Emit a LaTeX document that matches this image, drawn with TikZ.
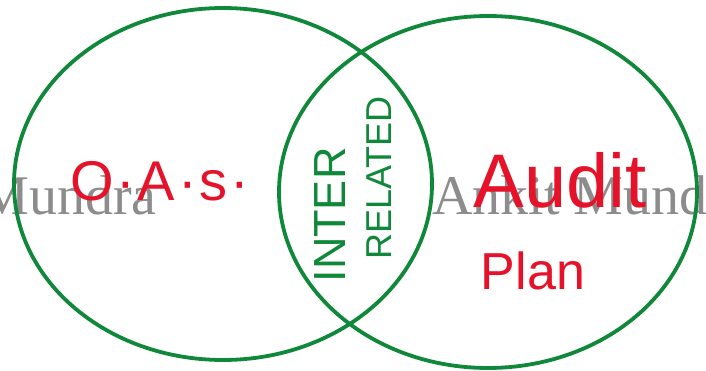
\documentclass[tikz,border=0pt]{standalone}
\usepackage{fontspec}
\setmainfont{Liberation Sans}
\newfontfamily\markfont{Liberation Serif}
\usetikzlibrary{shapes.geometric}
\definecolor{venngreen}{RGB}{16,136,58}
\definecolor{vennred}{RGB}{230,18,42}
\definecolor{markgray}{RGB}{140,140,140}

\begin{document}
\begin{tikzpicture}[x=1pt,y=-1pt,
  ring/.style={draw=venngreen,line width=3.8pt,ellipse,inner sep=0pt,
    minimum width=418pt,minimum height=352pt},
  redtext/.style={text=vennred,inner sep=0pt},
  greentext/.style={text=venngreen,inner sep=0pt,rotate=90},
  watermark/.style={text=markgray,inner sep=0pt,font=\markfont\fontsize{56}{60}\selectfont}]
\useasboundingbox (0,0) rectangle (706,371);
% watermark behind everything
\begin{scope}
\clip (0,0) rectangle (706,371);
\node[watermark,anchor=base east] (markleft) at (157,215) {Mundra};
\node[watermark,anchor=base west] (markright) at (432,215) {Ankit Mundra};
\end{scope}
% the two sets
\node[ring] (oasring) at (223,184) {};
\node[ring] (auditring) at (488,192) {};
% labels
\node[redtext,font=\fontsize{56}{60}\selectfont\addfontfeature{LetterSpace=5},anchor=base west] (oas) at (70,201) {O·A·s·};
\node[redtext,font=\fontsize{76}{80}\selectfont] (audit) at (560,180) {Audit};
\node[redtext,font=\fontsize{52}{56}\selectfont] (plan) at (533,271) {Plan};
\node[greentext,font=\fontsize{45}{50}\selectfont] (inter) at (330,215) {INTER};
\node[greentext,font=\fontsize{36}{40}\selectfont] (related) at (379,178) {RELATED};
\end{tikzpicture}
\end{document}
